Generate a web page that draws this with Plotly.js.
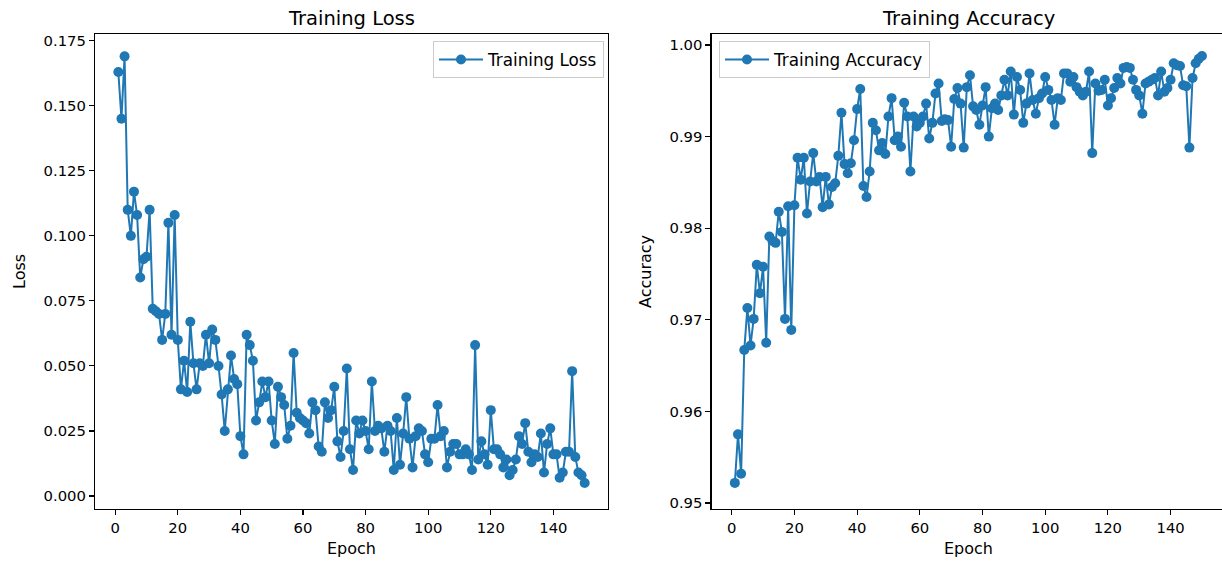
<!DOCTYPE html>
<html>
<head>
<meta charset="utf-8">
<script src="https://cdn.plot.ly/plotly-3.0.1.min.js"></script>
<style>
  html, body { margin: 0; padding: 0; background: #ffffff; overflow: hidden; width: 1222px; height: 561px; }
  #chart { width: 1240px; height: 561px; }
</style>
</head>
<body>
<div id="chart"></div>
<script>
// ---- data ----
const epochs = Array.from({length: 150}, (_, i) => i + 1);

const trainingLoss = [
  0.163, 0.145, 0.169, 0.110, 0.100, 0.117, 0.108, 0.084, 0.091, 0.092,
  0.110, 0.072, 0.071, 0.070, 0.060, 0.070, 0.105, 0.062, 0.108, 0.060,
  0.041, 0.052, 0.040, 0.067, 0.051, 0.041, 0.051, 0.050, 0.062, 0.051,
  0.064, 0.060, 0.050, 0.039, 0.025, 0.041, 0.054, 0.045, 0.043, 0.023,
  0.016, 0.062, 0.058, 0.052, 0.029, 0.036, 0.044, 0.038, 0.044, 0.029,
  0.020, 0.042, 0.038, 0.035, 0.022, 0.027, 0.055, 0.032, 0.030, 0.029,
  0.028, 0.024, 0.036, 0.033, 0.019, 0.017, 0.036, 0.030, 0.033, 0.042,
  0.021, 0.015, 0.025, 0.049, 0.018, 0.010, 0.029, 0.024, 0.029, 0.025,
  0.018, 0.044, 0.025, 0.027, 0.026, 0.017, 0.027, 0.025, 0.010, 0.030,
  0.012, 0.024, 0.038, 0.022, 0.011, 0.023, 0.026, 0.025, 0.016, 0.013,
  0.022, 0.022, 0.035, 0.023, 0.025, 0.011, 0.017, 0.020, 0.020, 0.016,
  0.016, 0.018, 0.016, 0.010, 0.058, 0.014, 0.021, 0.016, 0.012, 0.033,
  0.018, 0.018, 0.016, 0.011, 0.014, 0.008, 0.010, 0.014, 0.023, 0.020,
  0.028, 0.017, 0.013, 0.016, 0.015, 0.024, 0.009, 0.020, 0.026, 0.016,
  0.016, 0.007, 0.009, 0.017, 0.017, 0.048, 0.015, 0.009, 0.008, 0.005
];

const trainingAccuracy = [
  0.9522, 0.9575, 0.9532, 0.9667, 0.9713, 0.9672, 0.9701, 0.9760, 0.9729, 0.9758,
  0.9675, 0.9791, 0.9786, 0.9784, 0.9818, 0.9796, 0.9701, 0.9824, 0.9689, 0.9825,
  0.9877, 0.9853, 0.9877, 0.9816, 0.9851, 0.9882, 0.9851, 0.9856, 0.9823, 0.9856,
  0.9826, 0.9845, 0.9849, 0.9879, 0.9926, 0.9870, 0.9860, 0.9871, 0.9896, 0.9930,
  0.9952, 0.9846, 0.9834, 0.9862, 0.9915, 0.9907, 0.9885, 0.9893, 0.9881, 0.9922,
  0.9942, 0.9896, 0.9900, 0.9889, 0.9937, 0.9922, 0.9862, 0.9922, 0.9911, 0.9915,
  0.9922, 0.9936, 0.9898, 0.9915, 0.9947, 0.9958, 0.9917, 0.9919, 0.9918, 0.9889,
  0.9941, 0.9953, 0.9936, 0.9888, 0.9954, 0.9967, 0.9933, 0.9929, 0.9913, 0.9934,
  0.9954, 0.9900, 0.9931, 0.9936, 0.9929, 0.9945, 0.9962, 0.9945, 0.9971, 0.9924,
  0.9965, 0.9951, 0.9915, 0.9936, 0.9969, 0.9940, 0.9925, 0.9942, 0.9947, 0.9965,
  0.9951, 0.9940, 0.9913, 0.9942, 0.9940, 0.9969, 0.9969, 0.9960, 0.9965, 0.9954,
  0.9949, 0.9945, 0.9949, 0.9971, 0.9882, 0.9958, 0.9950, 0.9951, 0.9962, 0.9934,
  0.9942, 0.9953, 0.9964, 0.9958, 0.9975, 0.9976, 0.9975, 0.9962, 0.9951, 0.9945,
  0.9925, 0.9958, 0.9960, 0.9962, 0.9964, 0.9945, 0.9971, 0.9949, 0.9953, 0.9962,
  0.9980, 0.9978, 0.9977, 0.9956, 0.9955, 0.9888, 0.9964, 0.9980, 0.9985, 0.9988
];

const lossTicks = [0.000, 0.025, 0.050, 0.075, 0.100, 0.125, 0.150, 0.175];
const accTicks = [0.95, 0.96, 0.97, 0.98, 0.99, 1.00];
const epochTicks = [0, 20, 40, 60, 80, 100, 120, 140];

// ---- layout geometry ----
const W = 1240, H = 561;
const FONT = 'DejaVu Sans, sans-serif';
const BLUE = '#1f77b4';
const px = x => x / W;
const py = y => (H - y) / H;

const leftX = [95, 608];
const rightX = [711.5, 1225.3];
const plotY = [509, 34];

const traceStyle = {
  mode: 'lines+markers',
  line: {color: BLUE, width: 2},
  marker: {color: BLUE, size: 10},
  hoverinfo: 'x+y'
};

const data = [
  Object.assign({x: epochs, y: trainingLoss, name: 'Training Loss', xaxis: 'x', yaxis: 'y', legend: 'legend'}, traceStyle),
  Object.assign({x: epochs, y: trainingAccuracy, name: 'Training Accuracy', xaxis: 'x2', yaxis: 'y2', legend: 'legend2'}, traceStyle)
];

const axisCommon = {
  showgrid: false,
  zeroline: false,
  showline: true,
  mirror: true,
  linecolor: '#000000',
  linewidth: 1.1,
  ticks: 'outside',
  ticklen: 5,
  tickwidth: 1.1,
  tickcolor: '#000000',
  tickfont: {family: FONT, size: 14.8, color: '#000000'},
  automargin: false,
  fixedrange: true
};

const legendCommon = {
  bgcolor: 'rgba(255,255,255,0.8)',
  bordercolor: '#cccccc',
  borderwidth: 1,
  font: {family: FONT, size: 16.8, color: '#000000'},
  yanchor: 'top',
  tracegroupgap: 0,
  itemwidth: 44
};

const layout = {
  width: W,
  height: H,
  margin: {l: 0, r: 0, t: 0, b: 0, pad: 0},
  paper_bgcolor: '#ffffff',
  plot_bgcolor: '#ffffff',
  showlegend: true,
  xaxis: Object.assign({}, axisCommon, {
    domain: [px(leftX[0]), px(leftX[1])],
    range: [-6.45, 157.45],
    tickvals: epochTicks,
    ticktext: epochTicks.map(String),
    anchor: 'y'
  }),
  yaxis: Object.assign({}, axisCommon, {
    domain: [py(plotY[0]), py(plotY[1])],
    range: [-0.005, 0.1776],
    tickvals: lossTicks,
    ticktext: lossTicks.map(v => v.toFixed(3)),
    anchor: 'x'
  }),
  xaxis2: Object.assign({}, axisCommon, {
    domain: [px(rightX[0]), Math.min(1, px(rightX[1]))],
    range: [-6.45, 157.45],
    tickvals: epochTicks,
    ticktext: epochTicks.map(String),
    anchor: 'y2'
  }),
  yaxis2: Object.assign({}, axisCommon, {
    domain: [py(plotY[0]), py(plotY[1])],
    range: [0.94935, 1.0012],
    tickvals: accTicks,
    ticktext: accTicks.map(v => v.toFixed(2)),
    anchor: 'x2'
  }),
  legend: Object.assign({}, legendCommon, {x: px(604), y: py(41), xanchor: 'right'}),
  legend2: Object.assign({}, legendCommon, {x: px(719), y: py(41), xanchor: 'left'}),
  annotations: [
    {text: 'Training Loss', x: px((leftX[0] + leftX[1]) / 2), y: py(18), xref: 'paper', yref: 'paper',
     showarrow: false, xanchor: 'center', yanchor: 'middle', font: {family: FONT, size: 19.5, color: '#000000'}},
    {text: 'Training Accuracy', x: px((rightX[0] + rightX[1]) / 2), y: py(18), xref: 'paper', yref: 'paper',
     showarrow: false, xanchor: 'center', yanchor: 'middle', font: {family: FONT, size: 19.5, color: '#000000'}},
    {text: 'Epoch', x: px((leftX[0] + leftX[1]) / 2), y: py(548), xref: 'paper', yref: 'paper',
     showarrow: false, xanchor: 'center', yanchor: 'middle', font: {family: FONT, size: 16, color: '#000000'}},
    {text: 'Epoch', x: px((rightX[0] + rightX[1]) / 2), y: py(548), xref: 'paper', yref: 'paper',
     showarrow: false, xanchor: 'center', yanchor: 'middle', font: {family: FONT, size: 16, color: '#000000'}},
    {text: 'Loss', x: px(19), y: py(272), xref: 'paper', yref: 'paper', textangle: -90,
     showarrow: false, xanchor: 'center', yanchor: 'middle', font: {family: FONT, size: 16, color: '#000000'}},
    {text: 'Accuracy', x: px(645), y: py(272), xref: 'paper', yref: 'paper', textangle: -90,
     showarrow: false, xanchor: 'center', yanchor: 'middle', font: {family: FONT, size: 16, color: '#000000'}}
  ]
};

Plotly.newPlot('chart', data, layout, {displayModeBar: false, responsive: false, staticPlot: true});
</script>
</body>
</html>
